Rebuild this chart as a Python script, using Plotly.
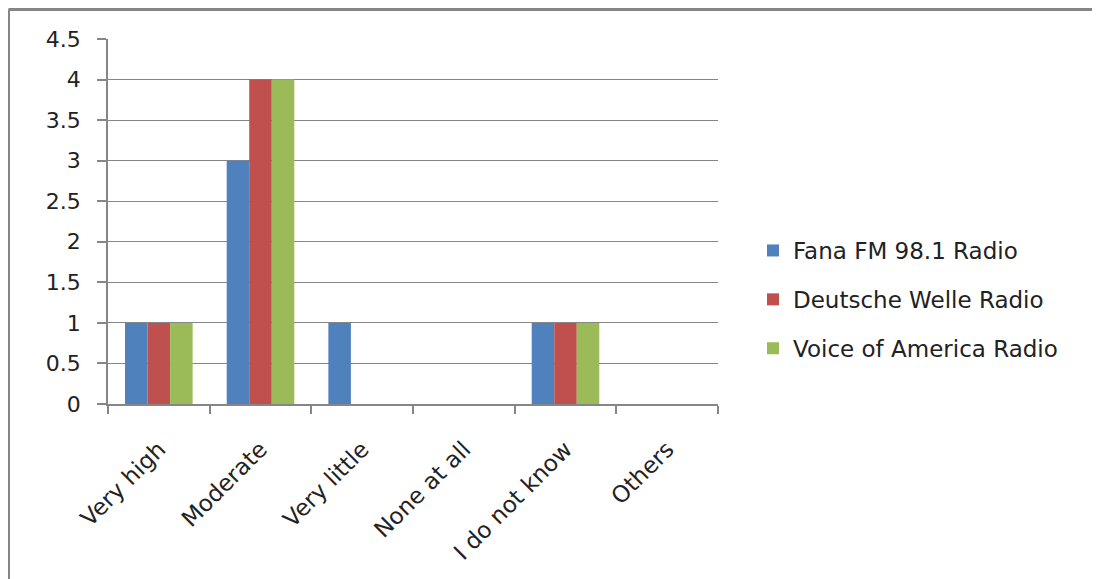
import plotly.graph_objects as go

categories = ["Very high", "Moderate", "Very little", "None at all", "I do not know", "Others"]
fana = [1, 3, 1, 0, 1, 0]
dw = [1, 4, 0, 0, 1, 0]
voa = [1, 4, 0, 0, 1, 0]
series_names = ["Fana FM 98.1 Radio", "Deutsche Welle Radio", "Voice of America Radio"]
colors = ["#4F81BD", "#C0504D", "#9BBB59"]
y_ticks = [0, 0.5, 1, 1.5, 2, 2.5, 3, 3.5, 4, 4.5]
y_labels = ["0", "0.5", "1", "1.5", "2", "2.5", "3", "3.5", "4", "4.5"]

# page has an 8px body margin, so figure coords = screen coords - 8
OFF = 8
W, H = 1100, 579
L, T = 108 - OFF, 39 - OFF
R = W - (718 - OFF)
B = H - (404 - OFF)
pw, ph = W - L - R, H - T - B

fig = go.Figure()
for i, (name, vals) in enumerate(zip(series_names, [fana, dw, voa])):
    fig.add_trace(go.Bar(x=categories, y=vals, name=name, marker_color=colors[i],
                         marker_line_width=0, legendgroup=str(i)))

font = "DejaVu Sans, sans-serif"
gray = "#868686"
fig.update_layout(
    width=W, height=H,
    margin=dict(l=L, r=R, t=T, b=B, autoexpand=False),
    paper_bgcolor="white", plot_bgcolor="white",
    barmode="group", bargap=0.335, bargroupgap=0,
    font=dict(family=font, size=22, color="#222222"),
    showlegend=True,
    legend=dict(x=(745 - L) / pw, y=(396 - 221) / ph, xanchor="left", yanchor="top",
                font=dict(size=23, color="#222222"), traceorder="grouped",
                tracegroupgap=16, itemwidth=30, bgcolor="rgba(0,0,0,0)"),
    xaxis=dict(showline=True, linecolor=gray, linewidth=1.5, ticks="outside", ticklen=8,
               tickcolor=gray, tickwidth=1.5, tickangle=-45, tickson="boundaries",
               ticklabelstandoff=21, showgrid=False, tickfont=dict(size=23)),
    yaxis=dict(range=[0, 4.5], tickvals=y_ticks, ticktext=y_labels, showline=True,
               linecolor=gray, linewidth=1.5, ticks="outside", ticklen=9, tickcolor=gray,
               tickwidth=1.5, showgrid=True, gridcolor=gray, gridwidth=1.2,
               ticklabelstandoff=12, zeroline=False, tickfont=dict(size=22)),
)

# outer chart border (top and left visible)
x0 = (0.5 - L) / pw
y0 = (ph + T - 1.5) / ph
fig.add_shape(type="line", xref="paper", yref="paper", x0=x0, x1=(W + 20 - L) / pw,
              y0=y0, y1=y0, line=dict(color="#858585", width=3))
fig.add_shape(type="line", xref="paper", yref="paper", x0=x0, x1=x0,
              y0=y0, y1=-(B + 20) / ph, line=dict(color="#858585", width=3))

fig.write_html("out.html")
